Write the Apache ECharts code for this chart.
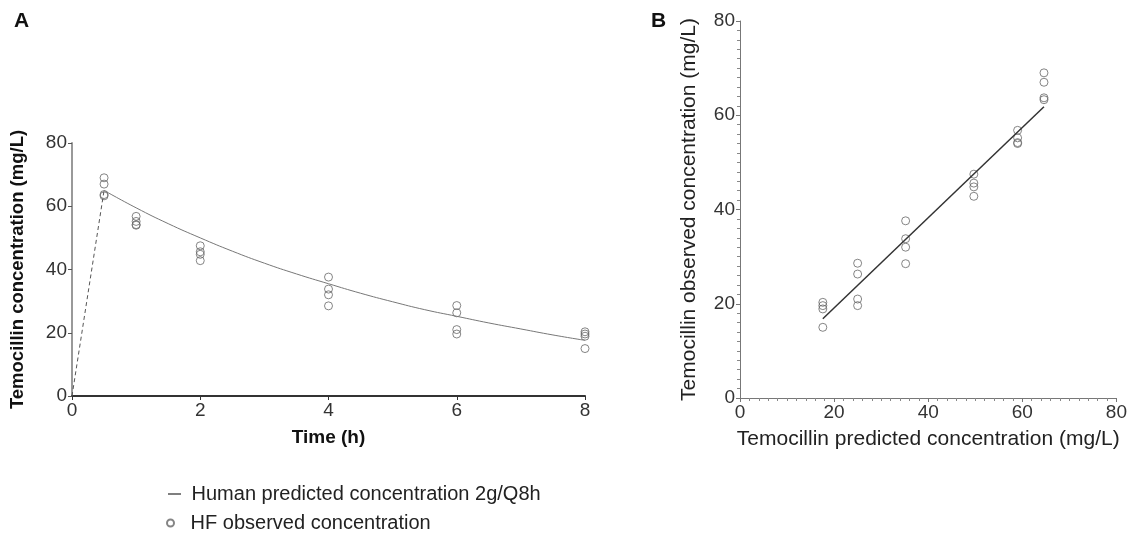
<!DOCTYPE html>
<html>
<head>
<meta charset="utf-8">
<script src="https://cdn.jsdelivr.net/npm/echarts@6/dist/echarts.min.js"></script>
<style>
  html, body { margin: 0; padding: 0; background: #fff; }
  #main { width: 1130px; height: 534px; }
</style>
</head>
<body>
<div id="main"></div>
<script>
// panel A : predicted curve
var curveTime = [0.5, 1, 1.5, 2, 2.5, 3, 3.5, 4, 4.5, 5, 5.5, 6, 6.5, 7, 7.5, 8];
var curveConc = [65, 59.5, 54.5, 50, 45.8, 42, 38.6, 35.5, 32.5, 29.8, 27.3, 25.2, 23.1, 21.2, 19.3, 17.6];
var loadTime = [0, 0.5];
var loadConc = [0, 65];

// observed samples, 4 per time point
var obsTime = [0.5, 0.5, 0.5, 0.5, 1, 1, 1, 1, 2, 2, 2, 2, 4, 4, 4, 4, 6, 6, 6, 6, 8, 8, 8, 8];
var obsConc = [69, 67, 63.7, 63.3, 56.8, 55.2, 54.2, 54.0, 47.5, 45.6, 44.8, 42.8,
               37.6, 33.8, 32.0, 28.5, 28.6, 26.3, 21.0, 19.6, 20.3, 19.6, 18.9, 15.0];

// panel B : predicted concentration at each sample time
var predAtTime = {0.5: 64.6, 1: 59, 2: 49.7, 4: 35.2, 6: 25, 8: 17.6};
var fitX = [17.6, 64.6];
var fitY = [16.8, 61.8];

var chart = echarts.init(document.getElementById('main'));
var font = "'Liberation Sans', Arial, sans-serif";

function zip(a, b) {
    var out = [];
    for (var i = 0; i < a.length; i++) out.push([a[i], b[i]]);
    return out;
}

var scatterB = [];
for (var i = 0; i < obsTime.length; i++) {
    scatterB.push([predAtTime[obsTime[i]], obsConc[i]]);
}

var lineName = 'Human predicted concentration 2g/Q8h';
var obsName = 'HF observed concentration';

var option = {
    animation: false,
    textStyle: { fontFamily: font },
    title: [
        { text: 'A', left: 9, top: 6, textStyle: { fontSize: 21, fontWeight: 'bold', color: '#111', fontFamily: font } },
        { text: 'B', left: 646, top: 6, textStyle: { fontSize: 21, fontWeight: 'bold', color: '#111', fontFamily: font } }
    ],
    legend: [
        {
            data: [lineName], left: 163, top: 479, icon: 'rect',
            itemWidth: 13, itemHeight: 1.5,
            formatter: ' {name}',
            textStyle: { fontSize: 20, color: '#222', fontFamily: font }
        },
        {
            data: [obsName], left: 161, top: 508,
            itemWidth: 8, itemHeight: 7,
            formatter: '  {name}',
            textStyle: { fontSize: 20, color: '#222', fontFamily: font }
        }
    ],
    grid: [
        { left: 72, right: 545, top: 143, bottom: 138 },
        { left: 740, right: 13, top: 21, bottom: 136 }
    ],
    xAxis: [
        {
            gridIndex: 0, type: 'value', min: 0, max: 8, interval: 2,
            name: 'Time (h)', nameLocation: 'middle', nameGap: 32,
            nameTextStyle: { fontSize: 19, fontWeight: 'bold', color: '#111' },
            axisLine: { lineStyle: { color: '#333', width: 2 } },
            axisTick: { length: 4, lineStyle: { color: '#333' } },
            axisLabel: { fontSize: 19, color: '#333', margin: 5 },
            splitLine: { show: false }
        },
        {
            gridIndex: 1, type: 'value', min: 0, max: 80, interval: 20,
            name: 'Temocillin predicted concentration (mg/L)', nameLocation: 'middle', nameGap: 31,
            nameTextStyle: { fontSize: 21, color: '#222' },
            axisLine: { lineStyle: { color: '#777', width: 1 } },
            axisTick: { length: 4, lineStyle: { color: '#777' } },
            minorTick: { show: true, splitNumber: 10, length: 3, lineStyle: { color: '#888' } },
            axisLabel: { fontSize: 19, color: '#333', margin: 5 },
            splitLine: { show: false }
        }
    ],
    yAxis: [
        {
            gridIndex: 0, type: 'value', min: 0, max: 80, interval: 20,
            name: 'Temocillin concentration (mg/L)', nameLocation: 'middle', nameGap: 45,
            nameTextStyle: { fontSize: 18.5, fontWeight: 'bold', color: '#111' },
            axisLine: { show: true, lineStyle: { color: '#999', width: 2 } },
            axisTick: { show: true, length: 4, lineStyle: { color: '#555' } },
            axisLabel: { fontSize: 19, color: '#333', margin: 5 },
            splitLine: { show: false }
        },
        {
            gridIndex: 1, type: 'value', min: 0, max: 80, interval: 20,
            name: 'Temocillin observed concentration (mg/L)', nameLocation: 'middle', nameGap: 40,
            nameTextStyle: { fontSize: 21, color: '#222' },
            axisLine: { show: true, lineStyle: { color: '#777', width: 1 } },
            axisTick: { show: true, length: 4, lineStyle: { color: '#777' } },
            minorTick: { show: true, splitNumber: 10, length: 3, lineStyle: { color: '#888' } },
            axisLabel: { fontSize: 19, color: '#333', margin: 5 },
            splitLine: { show: false }
        }
    ],
    series: [
        {
            name: 'loading', type: 'line', xAxisIndex: 0, yAxisIndex: 0,
            data: zip(loadTime, loadConc), symbol: 'none',
            lineStyle: { color: '#555', width: 1, type: [4, 3] }
        },
        {
            name: lineName, type: 'line', xAxisIndex: 0, yAxisIndex: 0,
            data: zip(curveTime, curveConc), symbol: 'none', smooth: true,
            itemStyle: { color: '#555' },
            lineStyle: { color: '#777', width: 1 }
        },
        {
            name: obsName, type: 'scatter', xAxisIndex: 0, yAxisIndex: 0,
            data: zip(obsTime, obsConc), symbol: 'circle', symbolSize: 8,
            itemStyle: { color: 'rgba(255,255,255,0)', borderColor: '#666', borderWidth: 1 }
        },
        {
            name: 'fit', type: 'line', xAxisIndex: 1, yAxisIndex: 1,
            data: zip(fitX, fitY), symbol: 'none',
            lineStyle: { color: '#333', width: 1.5 }
        },
        {
            name: 'obsB', type: 'scatter', xAxisIndex: 1, yAxisIndex: 1,
            data: scatterB, symbol: 'circle', symbolSize: 8,
            itemStyle: { color: 'rgba(255,255,255,0)', borderColor: '#666', borderWidth: 1 }
        }
    ]
};

chart.setOption(option);
</script>
</body>
</html>
